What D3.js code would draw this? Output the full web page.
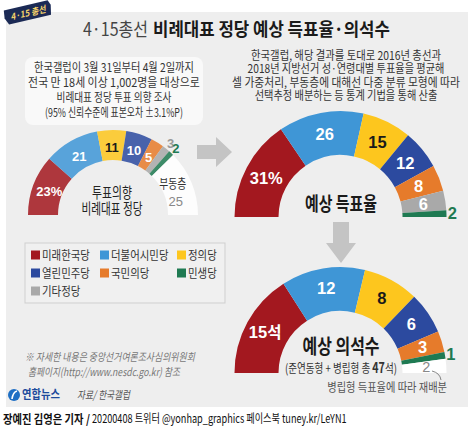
<!DOCTYPE html>
<html><head><meta charset="utf-8">
<script src="https://cdn.jsdelivr.net/npm/d3@7"></script>
<style>html,body{margin:0;padding:0;background:#fff;}svg{display:block;}</style>
</head><body>
<script>
// ---- data ----
const partyNames = ['미래한국당','더불어시민당','정의당','열린민주당','국민의당','민생당','기타정당'];
const partyColors = ['#a3181f','#3f96d6','#fdc61e','#2c4a9f','#e67b2b','#1f7a52','#a9a9a9'];

const surveyLabels = ['미래한국당','더불어시민당','정의당','열린민주당','국민의당','기타정당','민생당','부동층'];
const surveyValues = [23,21,11,10,5,3,2,25];

const voteLabels = ['미래한국당','더불어시민당','정의당','열린민주당','국민의당','기타정당','민생당'];
const voteValues = [31,26,15,12,8,6,2];

const seatLabels = ['미래한국당','더불어시민당','정의당','열린민주당','국민의당','민생당','재배분'];
const seatValues = [15,12,8,6,3,1,2];

const surveyNote = ['한국갤럽이 3월 31일부터 4월 2일까지','전국 만 18세 이상 1,002명을 대상으로','비례대표 정당 투표 의향 조사','(95% 신뢰수준에 표본오차 ±3.1%P)'];
const methodNote = ['한국갤럽, 해당 결과를 토대로 2016년 총선과','2018년 지방선거 성·연령대별 투표율을 평균해','셀 가중처리, 부동층에 대해선 다중 분류 모형에 따라','선택추정 배분하는 등 통계 기법을 통해 산출'];

// ---- setup ----
const W = 474, H = 426;
const KR = '"Noto Sans CJK KR","Noto Sans",sans-serif';
const NUM = '"Liberation Sans",Arial,sans-serif';
const colorMap = new Map(partyNames.map((p,i)=>[p,partyColors[i]]));
colorMap.set('부동층','#ffffff'); colorMap.set('재배분','#ffffff');

const svg = d3.select('body').append('svg').attr('width',W).attr('height',H);

// text helper: s may be a string or an array of segments [{t, weight, size, family}]
// o.w = target width -> horizontal condensing via scale transform
function T(parent, x, y, s, size, o={}) {
  const g = parent.append('g').attr('transform',`translate(${x},${y})`);
  const t = g.append('text').attr('x',0).attr('y',0).attr('dy','0.36em')
    .attr('font-size',size).attr('text-anchor',o.anchor||'middle')
    .attr('fill',o.fill||'#222').attr('font-weight',o.weight||'normal')
    .attr('font-family',o.family||KR);
  if (o.italic) t.attr('font-style','italic');
  if (Array.isArray(s)) {
    s.forEach(seg=>{
      const sp = t.append('tspan').text(seg.t);
      if (seg.weight) sp.attr('font-weight',seg.weight);
      if (seg.size) sp.attr('font-size',seg.size);
      if (seg.family) sp.attr('font-family',seg.family);
    });
  } else t.text(s);
  if (o.w) {
    const nat = t.node().getComputedTextLength();
    if (nat > 0) g.attr('transform',`translate(${x},${y}) scale(${(o.w/nat).toFixed(4)},1)`);
  }
  return t;
}

// panel background
svg.append('rect').attr('x',6).attr('y',12).attr('width',462).attr('height',395).attr('fill','#eeeeee');

// badge
const badge = svg.append('g').attr('transform','translate(28,13) rotate(-13)');
badge.append('path').attr('d','M-23,-8 L22,-8 L24,-3 L22,7 L-21,7 L-24,0 Z').attr('fill','#1b2a55');
T(badge,0,0,'4·15 총선',9,{fill:'#f5d36a',weight:'bold',italic:true,w:36});

// title
T(svg,83,30,'4·15총선',18,{anchor:'start',fill:'#444',w:65});
T(svg,153,30,'비례대표 정당 예상 득표율·의석수',18,{anchor:'start',fill:'#1a1a1a',weight:'bold',w:237});

// info box
svg.append('rect').attr('x',25).attr('y',57).attr('width',178).attr('height',68).attr('rx',8).attr('fill','#f9f9f9');
const infoW=[160,172,115,138], infoY=[68,83,98,113];
surveyNote.forEach((s,i)=>T(svg,114,infoY[i],s,12,{fill:'#333',w:infoW[i]}));

// method text
const methW=[190,197,228,183], methY=[55.5,69,82.5,96];
methodNote.forEach((s,i)=>T(svg,346,methY[i],s,12,{fill:'#333',w:methW[i]}));

// donut helper
function donut(cx, cy, rOut, rIn, labels, values, o) {
  const g = svg.append('g').attr('transform',`translate(${cx},${cy})`);
  const total = d3.sum(values);
  const pie = d3.pie().sort(null).startAngle(-Math.PI/2).endAngle(Math.PI/2);
  const arcs = pie(values);
  const arc = d3.arc().innerRadius(rIn).outerRadius(rOut);
  g.selectAll('path').data(arcs).join('path')
    .attr('d',arc).attr('fill',(d,i)=>colorMap.get(labels[i]))
    .attr('fill-opacity',o.opacity||1);
  const lab = d3.arc().innerRadius(o.labelR).outerRadius(o.labelR);
  const out = d3.arc().innerRadius(o.outR).outerRadius(o.outR);
  arcs.forEach((d,i)=>{
    const name = labels[i];
    const txt = i===0 ? d.value + o.suffix : String(d.value);
    if (name==='부동층') {
      const [x,y] = lab.centroid(d);
      T(g,x-3,y-6,'부동층',13,{fill:'#333',w:27});
      T(g,x,y+12,txt,13,{fill:'#888',family:NUM});
      return;
    }
    if (name==='재배분') {
      const [x,y] = lab.centroid(d);
      T(g,x,y,txt,o.size-2,{fill:'#888',family:NUM});
      return;
    }
    const share = d.value/total;
    if (share < o.outside) {
      const [x,y] = out.centroid(d);
      const c = name==='기타정당' ? '#999' : colorMap.get(name);
      T(g,x,y,txt,o.size,{fill:c,weight:'bold',family:NUM});
    } else {
      const [x,y] = lab.centroid(d);
      const c = name==='정의당' ? '#1a1a1a' : '#fff';
      if (o.suffix==='석' && i===0) {
        T(g,x,y,[{t:String(d.value)},{t:'석',family:KR,size:o.size-1}],o.size,{fill:c,weight:'bold',family:NUM});
      } else {
        T(g,x,y,txt,o.size,{fill:c,weight:'bold',family:NUM});
      }
    }
  });
  return g;
}

// left: survey
donut(113,215,85,55,surveyLabels,surveyValues,{labelR:68,outR:92,outside:0.04,size:13,suffix:'%',opacity:0.86});
T(svg,112,193,'투표의향',14.5,{fill:'#222',w:40});
T(svg,112,209,'비례대표 정당',14.5,{fill:'#222',w:61});

// right top: expected vote
donut(340.5,217,106,62,voteLabels,voteValues,{labelR:84,outR:112,outside:0.04,size:16.5,suffix:'%'});
T(svg,341,204,'예상 득표율',19,{fill:'#1a1a1a',weight:'bold',w:72});

// right bottom: seats
donut(340.5,373,106,62,seatLabels,seatValues,{labelR:86,outR:112,outside:0.03,size:16.5,suffix:'석'});
T(svg,341,347,'예상 의석수',20,{fill:'#1a1a1a',weight:'bold',w:77});
T(svg,341,368,[{t:'(준연동형 + 병립형 총 '},{t:'47',weight:'bold',size:14},{t:'석)'}],12.5,{fill:'#333',w:112});

// leader line + note
svg.append('path').attr('d','M432,371 Q440,373 441,380').attr('fill','none').attr('stroke','#666').attr('stroke-width',0.8);
T(svg,447,387,'병립형 득표율에 따라 재배분',12.5,{anchor:'end',fill:'#555',w:120});

// arrows
svg.append('path').attr('d','M197,145 L216,145 L216,137 L232,152 L216,167 L216,159 L197,159 Z').attr('fill','#c4c4c4');
svg.append('path').attr('d','M333,222 L349,222 L349,243 L356,243 L341,263 L326,243 L333,243 Z').attr('fill','#c4c4c4');

// legend
svg.append('rect').attr('x',25).attr('y',243).attr('width',200).attr('height',60).attr('fill','#f0f0f0').attr('stroke','#cfcfcf').attr('stroke-width',1);
const colX=[31,100,177], rowY=[255,273,291];
partyNames.forEach((p,i)=>{
  const x=colX[i%3], y=rowY[Math.floor(i/3)];
  svg.append('rect').attr('x',x).attr('y',y-4.5).attr('width',9).attr('height',9).attr('fill',partyColors[i]);
  T(svg,x+11,y,p,12.5,{anchor:'start',fill:'#333',w:p.length*9.6});
});

// footnote
T(svg,25,357,'※ 자세한 내용은 중앙선거여론조사심의위원회',11,{anchor:'start',fill:'#777',italic:true,w:170});
T(svg,28,372,'홈페이지(http://www.nesdc.go.kr) 참조',11,{anchor:'start',fill:'#777',italic:true,w:152});

// logo & source
svg.append('circle').attr('cx',14).attr('cy',395).attr('r',6).attr('fill','#1f6fc4');
svg.append('path').attr('d','M12,399 Q13,392 17,391').attr('fill','none').attr('stroke','#fff').attr('stroke-width',1.6);
T(svg,22,395,'연합뉴스',12,{anchor:'start',fill:'#1c4a9c',weight:'bold',w:38});
T(svg,77,395,'자료/ 한국갤럽',11,{anchor:'start',fill:'#555',italic:true,w:53});

// credit line
T(svg,3,419,'장예진 김영은 기자 /',12.5,{anchor:'start',fill:'#111',weight:'bold',w:87});
T(svg,92,419,'20200408 트위터 @yonhap_graphics  페이스북 tuney.kr/LeYN1',12,{anchor:'start',fill:'#111',w:255});
</script>
</body></html>
